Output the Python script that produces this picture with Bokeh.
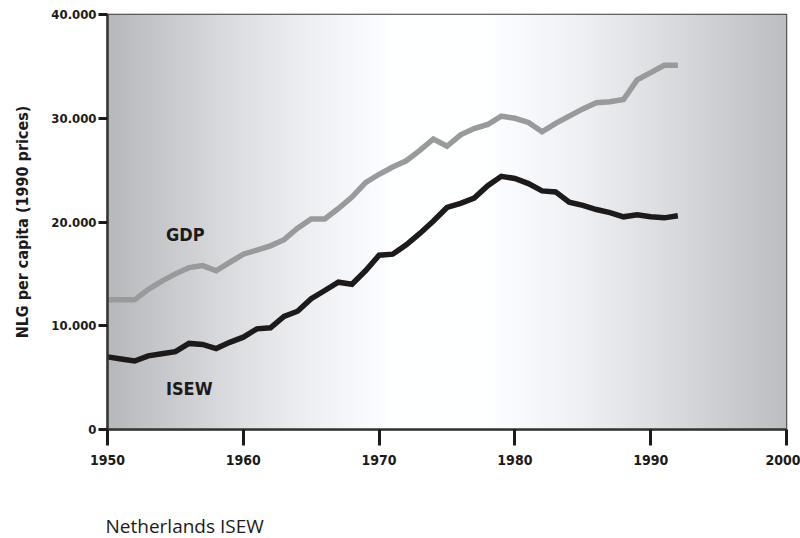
import numpy as np
from bokeh.plotting import figure
from bokeh.models import FixedTicker, Label, Range1d, Title
from bokeh.embed import file_html
from bokeh.resources import INLINE

years = list(range(1950, 1993))
gdp = [12.5, 12.5, 12.5, 13.5, 14.3, 15.0, 15.6, 15.8, 15.3, 16.1, 16.9,
       17.3, 17.7, 18.3, 19.4, 20.3, 20.3, 21.3, 22.4, 23.8, 24.6, 25.3,
       25.9, 26.9, 28.0, 27.3, 28.4, 29.0, 29.4, 30.2, 30.0, 29.6, 28.7,
       29.5, 30.2, 30.9, 31.5, 31.6, 31.8, 33.7, 34.4, 35.1, 35.1]
isew = [7.0, 6.8, 6.6, 7.1, 7.3, 7.5, 8.3, 8.2, 7.8, 8.4, 8.9,
        9.7, 9.8, 10.9, 11.4, 12.6, 13.4, 14.2, 14.0, 15.3, 16.8, 16.9,
        17.8, 18.9, 20.1, 21.4, 21.8, 22.3, 23.5, 24.4, 24.2, 23.7, 23.0,
        22.9, 21.9, 21.6, 21.2, 20.9, 20.5, 20.7, 20.5, 20.4, 20.6]
gdp_nlg = [v * 1000 for v in gdp]
isew_nlg = [v * 1000 for v in isew]

x_ticks = [1950, 1960, 1970, 1980, 1990, 2000]
y_ticks = [0, 10000, 20000, 30000, 40000]
y_tick_labels = ["0", "10.000", "20.000", "30.000", "40.000"]

COND = "DejaVu Sans Condensed, DejaVu Sans, sans-serif"
INK = "#1c1a1a"

p = figure(width=800, height=538, output_backend="svg", toolbar_location=None,
           x_range=Range1d(1950, 2000), y_range=Range1d(0, 40000),
           min_border_left=107, min_border_right=14, min_border_top=14,
           min_border_bottom=40)
p.background_fill_color = "white"
p.border_fill_color = "white"
p.grid.visible = False
p.outline_line_color = "#3a3a3a"
p.outline_line_width = 1.5

# gradient background
stops_f = [0.0, 0.1, 0.2, 0.3, 0.42, 0.56, 0.7, 0.85, 1.0]
stops_v = [184, 204, 224, 240, 255, 255, 240, 216, 190]
n = 400
f = np.linspace(0, 1, n)
v = np.interp(f, stops_f, stops_v)
img = np.zeros((1, n), dtype=np.uint32)
view = img.view(dtype=np.uint8).reshape((1, n, 4))
view[0, :, 0] = np.clip(v - 1, 0, 255).astype(np.uint8)
view[0, :, 1] = np.clip(v, 0, 255).astype(np.uint8)
view[0, :, 2] = np.clip(v + 3, 0, 255).astype(np.uint8)
view[0, :, 3] = 255
p.image_rgba(image=[img], x=1950, y=0, dw=50, dh=40000)

p.line(years, gdp_nlg, line_color="#999a9c", line_width=5.5, line_join="miter")
p.line(years, isew_nlg, line_color=INK, line_width=5.5, line_join="miter")

p.add_layout(Label(x=1954.3, y=18800, text="GDP", text_font=COND,
                   text_font_style="bold", text_font_size="18px",
                   text_color=INK, text_baseline="middle"))
p.add_layout(Label(x=1954.3, y=4000, text="ISEW", text_font=COND,
                   text_font_style="bold", text_font_size="18px",
                   text_color=INK, text_baseline="middle"))

xa = p.xaxis[0]
xa.ticker = FixedTicker(ticks=x_ticks)
xa.major_tick_out = 16
xa.major_tick_in = 0
xa.minor_tick_out = 0
xa.minor_tick_in = 0
xa.major_tick_line_width = 3
xa.major_tick_line_color = INK
xa.axis_line_width = 2.5
xa.axis_line_color = "#333333"
xa.major_label_standoff = 9
xa.major_label_text_font = COND
xa.major_label_text_font_style = "bold"
xa.major_label_text_font_size = "14px"
xa.major_label_text_color = INK

ya = p.yaxis[0]
ya.ticker = FixedTicker(ticks=y_ticks)
ya.major_label_overrides = {t: l for t, l in zip(y_ticks, y_tick_labels)}
ya.major_tick_out = 9
ya.major_tick_in = 0
ya.minor_tick_out = 0
ya.minor_tick_in = 0
ya.major_tick_line_width = 3
ya.major_tick_line_color = INK
ya.axis_line_width = 2.5
ya.axis_line_color = "#333333"
ya.major_label_standoff = 2
ya.major_label_text_font = COND
ya.major_label_text_font_style = "bold"
ya.major_label_text_font_size = "13px"
ya.major_label_text_color = INK
ya.axis_label = "NLG per capita (1990 prices)"
ya.axis_label_text_font = COND
ya.axis_label_text_font_style = "bold"
ya.axis_label_text_font_size = "16px"
ya.axis_label_text_color = INK
ya.axis_label_standoff = 16

# spacer between axis and caption
p.add_layout(Title(text="\u00a0", align="left", standoff=24,
                   text_font_size="16px", text_color="white"), "below")
p.add_layout(Title(text="Netherlands ISEW", align="left", offset=-2,
                   standoff=0, text_font="Open Sans", text_font_size="19px",
                   text_font_style="normal", text_color=INK), "below")

open("out.html", "w").write(file_html(p, INLINE))
